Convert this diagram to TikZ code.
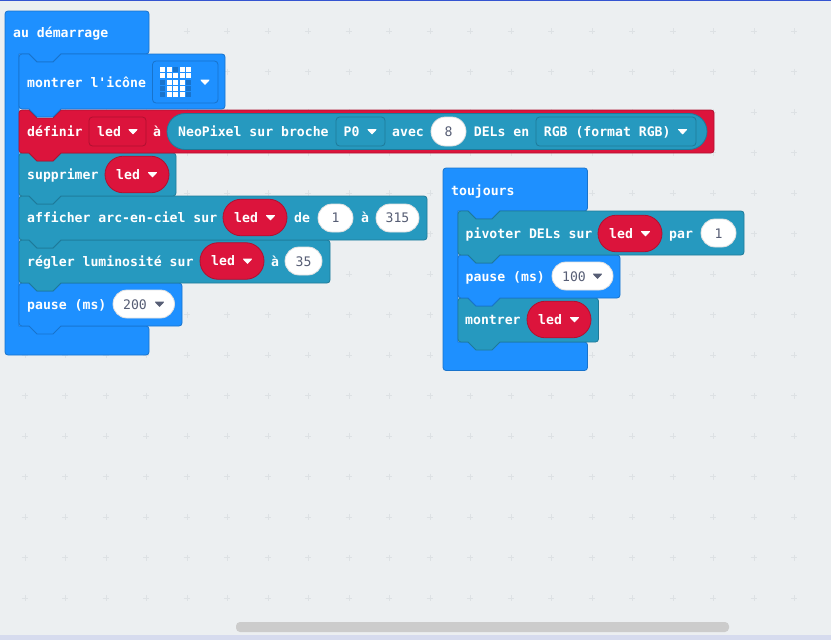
\documentclass[tikz,border=0pt]{standalone}
\usepackage{fontspec}
\setmonofont{DejaVu Sans Mono}
\usetikzlibrary{calc}
\definecolor{bgc}{HTML}{ECEFF1}
\definecolor{gridc}{HTML}{DDE1E4}
\definecolor{bluef}{HTML}{1E90FF}
\definecolor{blues}{HTML}{1873CC}
\definecolor{redf}{HTML}{DC143C}
\definecolor{reds}{HTML}{B01030}
\definecolor{tealf}{HTML}{2699BF}
\definecolor{teals}{HTML}{1E7A99}
\definecolor{numc}{HTML}{575E75}
\definecolor{topc}{HTML}{3454D1}
\definecolor{botc}{HTML}{D6DBEE}
\definecolor{scrollc}{HTML}{CCCCCC}
\tikzset{
  lbl/.style={anchor=base west,inner sep=0pt,text=white,font=\ttfamily\bfseries\fontsize{13.15}{14}\selectfont},
  numlbl/.style={anchor=base,inner sep=0pt,text=numc,font=\ttfamily\fontsize{13.15}{14}\selectfont},
  blockline/.style={line width=0.8pt,rounded corners=3pt},
}
% x, y, right, bottom, fill, stroke
\newcommand{\stackblock}[6]{%
  \draw[blockline,fill=#5,draw=#6]
    (#1,#2) [sharp corners] -- ++(10,0) -- ++(8,8) -- ++(16,0) -- ++(8,-8) [rounded corners=3pt] -- (#3,#2) -- (#3,#4)
    [sharp corners] -- ({#1+42},#4) -- ++(-8,8) -- ++(-16,0) -- ++(-8,-8) [rounded corners=3pt] -- (#1,#4) -- cycle;}
% outer x, top, right, inner x, hat bottom, foot top, bottom
\newcommand{\hatblock}[7]{%
  \draw[blockline,fill=bluef,draw=blues]
    (#1,#2) -- (#3,#2) -- (#3,#5) [sharp corners] -- ({#4+42},#5) -- ++(-8,8) -- ++(-16,0) -- ++(-8,-8) -- (#4,#5) -- (#4,#6) [rounded corners=3pt] -- (#3,#6) -- (#3,#7) -- (#1,#7) -- cycle;}
% x0 x1 y0 y1 fill stroke name
\newcommand{\pill}[7]{%
  \node[inner sep=0pt,minimum width={((#2)-(#1))*1pt},minimum height={((#4)-(#3))*1pt},rounded corners={((#4)-(#3))*0.5pt},fill=#5,draw=#6,line width=0.8pt] (#7) at ({((#1)+(#2))/2},{((#3)+(#4))/2}) {};}
\newcommand{\fieldbox}[7]{%
  \node[inner sep=0pt,minimum width={((#2)-(#1))*1pt},minimum height={((#4)-(#3))*1pt},rounded corners=3.5pt,fill=#5,draw=#6,line width=0.8pt] (#7) at ({((#1)+(#2))/2},{((#3)+(#4))/2}) {};}
\newcommand{\arrowtri}[3]{%
  \fill[#3,draw=#3,line width=1pt,line join=round] ({#1-4},{#2-2}) -- ({#1+4},{#2-2}) -- (#1,{#2+2.3}) -- cycle;}
\newcommand{\ledpill}[3]{% x0 ymid name
  \pill{#1}{#1+64}{#2-18.3}{#2+18.3}{redf}{reds}{#3}
  \node[lbl] (#3t) at ({#1+11},{#2+4.5}) {led};
  \arrowtri{#1+47.5}{#2}{white}}
\begin{document}
\begin{tikzpicture}[x=1pt,y=-1pt]
\useasboundingbox (0,0) rectangle (831,640);
\fill[bgc] (0,0) rectangle (831,640);
\fill[topc] (0,0) rectangle (831,1);
% grid crosses
\foreach \i in {0,...,19}{\foreach \j in {0,...,14}{
  \draw[gridc,line width=0.7pt] ({24.9+40.5*\i-3},{31+40.5*\j}) -- ++(6,0);
  \draw[gridc,line width=0.7pt] ({24.9+40.5*\i},{31+40.5*\j-3}) -- ++(0,6);
}}
% scrollbar
\fill[scrollc,rounded corners=4pt] (236,622) rectangle (729,632);
\fill[botc] (0,635) rectangle (831,640);
% --- au demarrage ---
\hatblock{5}{11}{149}{19}{54}{326}{355}
\stackblock{19}{283}{182}{326}{bluef}{blues}
\stackblock{19}{240}{330}{283}{tealf}{teals}
\stackblock{19}{196}{427}{240}{tealf}{teals}
\stackblock{19}{153}{176}{196}{tealf}{teals}
\stackblock{19}{110}{714}{153}{redf}{reds}
\stackblock{19}{54}{225}{109}{bluef}{blues}
\node[lbl] (start) at (13,37) {au démarrage};
\node[lbl] (show) at (27,87) {montrer l'icône};
\fieldbox{152.5}{218}{61}{103}{bluef}{blues}{icon}
\foreach \r/\c in {0/0,0/1,0/3,0/4,1/0,1/1,1/2,1/3,1/4,2/1,2/2,2/3,3/1,3/2,3/3,4/1,4/2,4/3}
  \fill[white] ({160.4+6.4*\c},{66.8+6.4*\r}) rectangle ++(5,5);
\foreach \r/\c in {0/2,2/0,2/4,3/0,3/4,4/0,4/4}
  \fill[blues] ({160.4+6.4*\c},{66.8+6.4*\r}) rectangle ++(5,5);
\arrowtri{205}{82}{white}
% definir
\node[lbl] (def) at (27,136) {définir};
\fieldbox{89}{146}{117}{146}{redf}{reds}{ledbox}
\node[lbl] (ledboxt) at (97,136) {led};
\arrowtri{133}{131.5}{white}
\node[lbl] (a1) at (153,136) {à};
\pill{167}{707}{113.5}{149.5}{tealf}{teals}{neo}
\node[lbl] (neot) at (178,136) {NeoPixel sur broche};
\fieldbox{336}{385}{117}{146}{tealf}{teals}{pin}
\node[lbl] (pint) at (343.5,136) {P0};
\arrowtri{372}{131.5}{white}
\node[lbl] (avec) at (392,136) {avec};
\pill{431}{466}{117}{146}{white}{black!12}{nb}
\node[numlbl] (nbt) at (448.5,136) {8};
\node[lbl] (dels) at (473.7,136) {DELs en};
\fieldbox{536}{696}{117}{146}{tealf}{teals}{rgb}
\node[lbl] (rgbt) at (543.7,136) {RGB (format RGB)};
\arrowtri{682.6}{131.5}{white}
% supprimer
\node[lbl] (clr) at (27,179) {supprimer};
\ledpill{105}{174.5}{led1}
% afficher
\node[lbl] (rain) at (27,222) {afficher arc-en-ciel sur};
\ledpill{223}{217.5}{led2}
\node[lbl] (de) at (294,222) {de};
\pill{318}{353}{204}{232}{white}{black!12}{v1}
\node[numlbl] (v1t) at (335.5,222) {1};
\node[lbl] (a2) at (361,222) {à};
\pill{376}{419}{204}{232}{white}{black!12}{v2}
\node[numlbl] (v2t) at (397.5,222) {315};
% regler
\node[lbl] (bri) at (27,266) {régler luminosité sur};
\ledpill{200}{261}{led3}
\node[lbl] (a3) at (271,266) {à};
\pill{285}{322}{247}{275}{white}{black!12}{v3}
\node[numlbl] (v3t) at (303.5,266) {35};
% pause
\node[lbl] (p1) at (27,309) {pause (ms)};
\pill{113}{174.5}{290}{318}{white}{black!12}{v4}
\node[numlbl] (v4t) at (135,309) {200};
\arrowtri{159.5}{304}{numc}
% --- toujours ---
\hatblock{443}{168}{587.5}{458}{211}{342}{370.5}
\stackblock{458}{298}{598.5}{342}{tealf}{teals}
\stackblock{458}{255}{620}{298}{bluef}{blues}
\stackblock{458}{211}{744}{255}{tealf}{teals}
\node[lbl] (always) at (451,195) {toujours};
\node[lbl] (rot) at (465.5,238) {pivoter DELs sur};
\ledpill{598}{233.5}{led4}
\node[lbl] (par) at (669,238) {par};
\pill{701}{736}{219}{247}{white}{black!12}{v5}
\node[numlbl] (v5t) at (718.5,238) {1};
\node[lbl] (p2) at (465.5,281) {pause (ms)};
\pill{552}{613}{262}{290}{white}{black!12}{v6}
\node[numlbl] (v6t) at (574,281) {100};
\arrowtri{597.5}{276}{numc}
\node[lbl] (sh2) at (465,324) {montrer};
\ledpill{527}{319.5}{led5}
\end{tikzpicture}
\end{document}
